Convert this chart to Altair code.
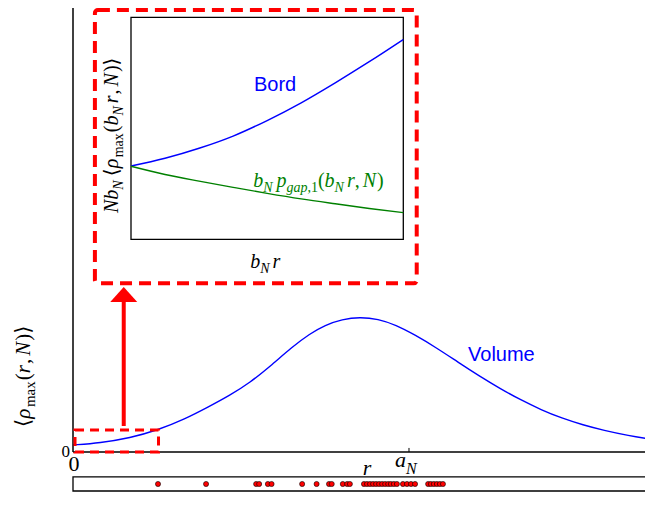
import altair as alt
import pandas as pd

# ---------------- data ----------------
# main curve: r (in units of a_N) and <rho_max>(r,N) (peak normalised to 1)
vol_r = [0.0, 0.080, 0.170, 0.253, 0.333, 0.402, 0.467, 0.527, 0.586, 0.652, 0.705,
         0.750, 0.801, 0.854, 0.908, 0.961, 1.018, 1.083, 1.146, 1.208, 1.271, 1.333,
         1.393, 1.455, 1.518, 1.580, 1.652, 1.726]
vol_v = [0.052, 0.067, 0.104, 0.163, 0.244, 0.333, 0.420, 0.515, 0.633, 0.778, 0.876,
         0.940, 0.983, 1.000, 0.985, 0.941, 0.867, 0.770, 0.665, 0.565, 0.470, 0.385,
         0.313, 0.250, 0.200, 0.160, 0.122, 0.092]

# inset curves (normalised inset units)
inset_x = [0.0, 0.125, 0.25, 0.375, 0.5, 0.625, 0.75, 0.875, 1.0]
bord_y = [0.330, 0.365, 0.410, 0.465, 0.535, 0.615, 0.705, 0.800, 0.900]
gap_y = [0.329, 0.292, 0.262, 0.234, 0.207, 0.182, 0.160, 0.139, 0.120]

# sample points shown in the strip below the axis
dots_r = [0.253, 0.396, 0.545, 0.554, 0.580, 0.591, 0.682, 0.725, 0.762, 0.770,
          0.803, 0.816, 0.824, 0.866, 0.875, 0.884, 0.893, 0.902, 0.911, 0.920,
          0.929, 0.938, 0.946, 0.955, 0.964, 0.982, 0.994, 1.006, 1.018, 1.057,
          1.065, 1.074, 1.083, 1.092, 1.101]

BLUE = "#0000ff"
GREEN = "#008000"
RED = "#ff0000"
SERIF = "Liberation Serif"
SANS = "Liberation Sans"

W, H = 572, 444
main_x = alt.Scale(domain=[0, 1.7024], nice=False, zero=False)
main_y = alt.Scale(domain=[0, 3.2889], nice=False, zero=False)
ins_x = alt.Scale(domain=[0, 1], range=[58, 330.3], nice=False, zero=False)
ins_y = alt.Scale(domain=[0, 1], range=[231.3, 9.3], nice=False, zero=False)

IT = {'N': 0.667, 'b': 0.5, 'r': 0.389, 'p': 0.5, 'g': 0.5, 'a': 0.5, 'ρ': 0.55}
RM = {'m': 0.778, 'a': 0.444, 'x': 0.5, '(': 0.333, ')': 0.333, ',': 0.25, '1': 0.5, '0': 0.5}


def width(txt, size, kind):
    if kind == 'br':
        return 0.40 * size * len(txt)
    tab = IT if kind == 'it' else RM
    return sum(tab.get(c, 0.5) for c in txt) * size


def anchor(x, y, xs, ys):
    return alt.Chart(pd.DataFrame({'x': [x], 'y': [y]})), \
        dict(x=alt.X('x:Q', scale=xs, axis=None), y=alt.Y('y:Q', scale=ys, axis=None))


def math_text(pieces, x, y, xs, ys, angle=0, color='black'):
    """pieces: (text, size, kind, dy, extra_gap_after)"""
    layers = []
    off = 0.0
    for txt, size, kind, dy, gap in pieces:
        base, enc = anchor(x, y, xs, ys)
        font = "DejaVu Sans" if kind == 'br' else SERIF
        style = 'italic' if kind == 'it' else 'normal'
        props = dict(text=txt, fontSize=size, font=font, fontStyle=style, align='left',
                     baseline='alphabetic', dx=off, dy=dy, color=color)
        if angle:
            props['angle'] = angle
        layers.append(base.mark_text(**props).encode(**enc))
        off += width(txt, size, kind) + gap
    return layers


def rect(x, x2, y, y2, xs, ys, **mk):
    df = pd.DataFrame({'x': [x], 'x2': [x2], 'y': [y], 'y2': [y2]})
    return alt.Chart(df).mark_rect(fillOpacity=0, **mk).encode(
        x=alt.X('x:Q', scale=xs, axis=None), x2='x2:Q',
        y=alt.Y('y:Q', scale=ys, axis=None), y2='y2:Q')


def vrule(x, y, y2, **mk):
    df = pd.DataFrame({'x': [x], 'y': [y], 'y2': [y2]})
    return alt.Chart(df).mark_rule(**mk).encode(
        x=alt.X('x:Q', scale=main_x, axis=None),
        y=alt.Y('y:Q', scale=main_y, axis=None), y2='y2:Q')


def hrule(y, x, x2, **mk):
    df = pd.DataFrame({'y': [y], 'x': [x], 'x2': [x2]})
    return alt.Chart(df).mark_rule(**mk).encode(
        y=alt.Y('y:Q', scale=main_y, axis=None),
        x=alt.X('x:Q', scale=main_x, axis=None), x2='x2:Q')


# ---------------- main panel ----------------
vol_df = pd.DataFrame({'r': vol_r, 'v': vol_v})
curve = alt.Chart(vol_df).mark_line(color=BLUE, strokeWidth=1.4, interpolate='basis').encode(
    x=alt.X('r:Q', scale=main_x, axis=None),
    y=alt.Y('v:Q', scale=main_y, axis=None))

left_axis = vrule(0.0, 0.0, 3.2889, color='black', strokeWidth=1.5)
bottom_axis = hrule(0.0, 0.0, 1.75, color='black', strokeWidth=1.5)
tick = vrule(1.0, 0.0, 0.03, color='black', strokeWidth=1)

small_box = rect(0.006, 0.2545, 0.0, 0.163, main_x, main_y,
                 stroke=RED, strokeWidth=3, strokeDash=[9, 6])
big_box = rect(0.0652, 1.023, 1.2496, 3.274, main_x, main_y,
               stroke=RED, strokeWidth=4, strokeDash=[12, 7], cornerRadius=3)

arrow = vrule(0.151, 0.1926, 1.126, color=RED, strokeWidth=4)
hb, he = anchor(0.151, 1.1667, main_x, main_y)
head = hb.mark_point(shape="M-1,0.55L0,-0.55L1,0.55Z", size=729, filled=True,
                     fill=RED, strokeWidth=0, opacity=1).encode(**he)

strip = rect(0.0, 1.75, -0.185, -0.289, main_x, main_y, stroke='black', strokeWidth=1.3)
dots_df = pd.DataFrame({'r': dots_r, 'y': [-0.237] * len(dots_r)})
dots = alt.Chart(dots_df).mark_point(filled=True, fill=RED, stroke='black', strokeWidth=0.6,
                                     size=26, opacity=1).encode(
    x=alt.X('r:Q', scale=main_x, axis=None),
    y=alt.Y('y:Q', scale=main_y, axis=None))

vb, ve = anchor(1.275, 0.7185, main_x, main_y)
volume_lbl = vb.mark_text(text='Volume', font=SANS, fontSize=20, color=BLUE,
                          align='center', baseline='middle').encode(**ve)

zb, zenc = anchor(0.003, -0.1407, main_x, main_y)
zero_x = zb.mark_text(text='0', font=SERIF, fontSize=22, align='center',
                      baseline='alphabetic').encode(**zenc)
yb, yenc = anchor(-0.009, -0.0407, main_x, main_y)
zero_y = yb.mark_text(text='0', font=SERIF, fontSize=17, align='right',
                      baseline='alphabetic').encode(**yenc)
rb, renc = anchor(0.875, -0.170, main_x, main_y)
r_lbl = rb.mark_text(text='r', font=SERIF, fontSize=22, fontStyle='italic', align='center',
                     baseline='alphabetic').encode(**renc)
aN = math_text([('a', 22, 'it', 0, 0), ('N', 16, 'it', 7, 0)], 0.958, -0.111, main_x, main_y)

ylab = math_text([
    ('⟨', 21, 'br', 0, 0), ('ρ', 21, 'it', 0, 0), ('max', 15, 'rm', 5, 1),
    ('(', 21, 'rm', 0, 0), ('r', 21, 'it', 0, 1), (',', 21, 'rm', 0, 3),
    ('N', 21, 'it', 0, 1), (')', 21, 'rm', 0, 0), ('⟩', 21, 'br', 0, 0)],
    -0.128, 0.185, main_x, main_y, angle=270)

main = alt.layer(curve, left_axis, bottom_axis, tick, small_box, big_box, arrow, head,
                 strip, dots, volume_lbl, zero_x, zero_y, r_lbl, *aN, *ylab)

# ---------------- inset ----------------
ins_df = pd.DataFrame({'x': inset_x * 2, 'y': bord_y + gap_y,
                       'c': ['Bord'] * len(inset_x) + ['gap'] * len(inset_x)})
ins_lines = alt.Chart(ins_df).mark_line(strokeWidth=1.4, interpolate='monotone').encode(
    x=alt.X('x:Q', scale=ins_x, axis=None),
    y=alt.Y('y:Q', scale=ins_y, axis=None),
    color=alt.Color('c:N', scale=alt.Scale(domain=['Bord', 'gap'], range=[BLUE, GREEN]),
                    legend=None))
frame = rect(0, 1, 0, 1, ins_x, ins_y, stroke='black', strokeWidth=1.3)

bb, benc = anchor(0.529, 0.695, ins_x, ins_y)
bord_lbl = bb.mark_text(text='Bord', font=SANS, fontSize=20, color=BLUE,
                        align='center', baseline='middle').encode(**benc)

gap_lbl = math_text([
    ('b', 20, 'it', 0, 0), ('N', 14, 'it', 5, 4), ('p', 20, 'it', 0, 0),
    ('gap', 14, 'it', 5, 0), (',1', 14, 'rm', 5, 0), ('(', 20, 'rm', 0, 0),
    ('b', 20, 'it', 0, 0), ('N', 14, 'it', 5, 3), ('r', 20, 'it', 0, 0),
    (',', 20, 'rm', 0, 3), ('N', 20, 'it', 0, 1), (')', 20, 'rm', 0, 0)],
    0.4485, 0.2356, ins_x, ins_y, color=GREEN)

ins_ylab = math_text([
    ('N', 20, 'it', 0, 0), ('b', 20, 'it', 0, 0), ('N', 14, 'it', 5, 4),
    ('⟨', 20, 'br', 0, 0), ('ρ', 20, 'it', 0, 0), ('max', 14, 'rm', 5, 1),
    ('(', 20, 'rm', 0, 0), ('b', 20, 'it', 0, 0), ('N', 14, 'it', 5, 3),
    ('r', 20, 'it', 0, 1), (',', 20, 'rm', 0, 3), ('N', 20, 'it', 0, 1),
    (')', 20, 'rm', 0, 0), ('⟩', 20, 'br', 0, 0)],
    -0.0478, 0.1185, ins_x, ins_y, angle=270)

ins_xlab = math_text([('b', 20, 'it', 0, 0), ('N', 14, 'it', 5, 3), ('r', 20, 'it', 0, 0)],
                     0.4375, -0.129, ins_x, ins_y)

inset = alt.layer(frame, ins_lines, bord_lbl, *gap_lbl, *ins_ylab, *ins_xlab)

chart = alt.layer(main, inset).resolve_scale(x='independent', y='independent').properties(
    width=W, height=H,
    autosize=alt.AutoSizeParams(type='none'),
    padding={'left': 65, 'top': 0, 'right': 0, 'bottom': 40},
).configure_view(stroke=None)

chart.save("out.html", embed_options={"renderer": "svg", "actions": False})
